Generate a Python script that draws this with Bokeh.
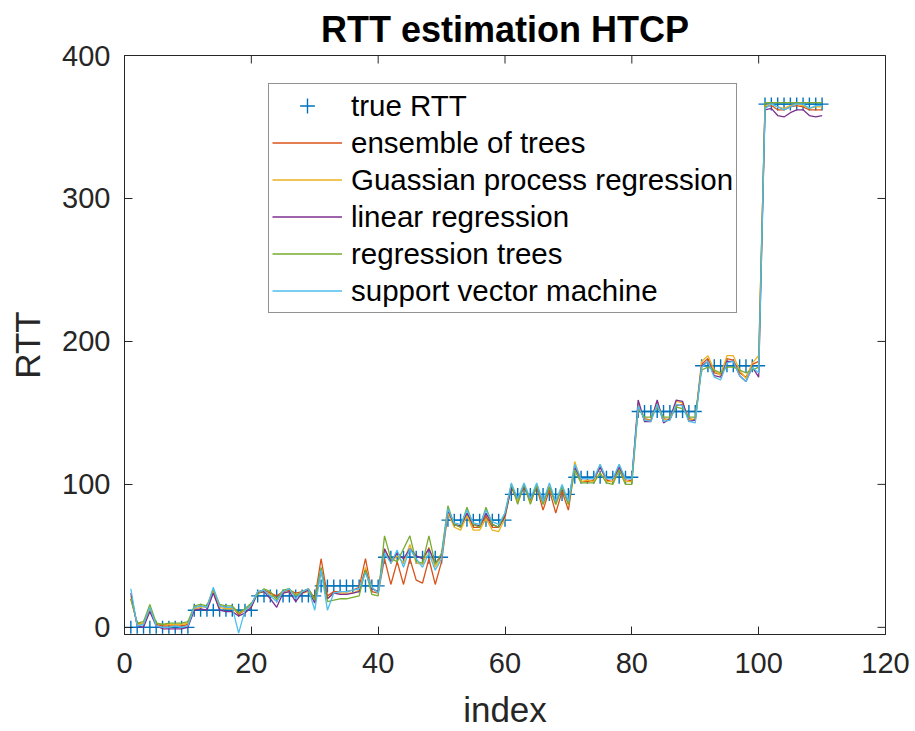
from bokeh.plotting import figure
from bokeh.models import Range1d, FixedTicker, Legend, LegendItem, ColumnDataSource
from bokeh.embed import file_html
from bokeh.resources import INLINE

index = list(range(1, 111))

true_rtt = [
    0, 0, 0, 0, 0, 0, 0, 0, 0, 0,
    12, 12, 12, 12, 12, 12, 12, 12, 12, 12,
    22, 22, 22, 22, 22, 22, 22, 22, 22, 22,
    29, 29, 29, 29, 29, 29, 29, 29, 29, 29,
    49, 49, 49, 49, 49, 49, 49, 49, 49, 49,
    75, 75, 75, 75, 75, 75, 75, 75, 75, 75,
    93, 93, 93, 93, 93, 93, 93, 93, 93, 93,
    105, 105, 105, 105, 105, 105, 105, 105, 105, 105,
    151, 151, 151, 151, 151, 151, 151, 151, 151, 151,
    183, 183, 183, 183, 183, 183, 183, 183, 183, 183,
    366, 366, 366, 366, 366, 366, 366, 366, 366, 366,
]

ensemble = [
    20, 3, 2, 12, 2, 1, 1, 1, 1, 2,
    14, 15, 14, 26, 15, 14, 14, 9, 12, 16,
    25, 26, 24, 22, 25, 26, 24, 25, 27, 20,
    48, 22, 25, 25, 25, 26, 28, 48, 25, 24,
    48, 30, 46, 30, 48, 33, 31, 48, 30, 46,
    80, 72, 70, 80, 70, 70, 78, 70, 70, 78,
    98, 88, 98, 88, 98, 82, 96, 80, 95, 82,
    112, 102, 102, 103, 112, 103, 102, 112, 102, 103,
    155, 146, 145, 156, 146, 145, 155, 156, 146, 145,
    184, 188, 178, 177, 188, 187, 178, 175, 184, 186,
    364, 365, 362, 362, 364, 365, 364, 362, 362, 362,
]

gpr = [
    22, 2, 3, 13, 3, 2, 2, 2, 2, 3,
    13, 14, 15, 25, 14, 13, 13, 10, 12, 15,
    24, 25, 23, 20, 24, 25, 23, 24, 25, 18,
    40, 20, 24, 24, 24, 24, 26, 42, 28, 24,
    55, 45, 50, 45, 58, 45, 44, 56, 42, 50,
    80, 70, 68, 78, 68, 68, 76, 68, 67, 76,
    100, 88, 100, 87, 100, 86, 100, 86, 98, 86,
    116, 102, 103, 102, 114, 102, 102, 114, 102, 102,
    156, 145, 145, 158, 145, 146, 158, 157, 145, 146,
    186, 190, 180, 176, 190, 190, 180, 174, 185, 190,
    365, 366, 364, 363, 365, 366, 365, 363, 364, 364,
]

linear = [
    24, 1, 0, 11, 1, -1, -1, -1, -1, 0,
    12, 13, 12, 24, 12, 11, 11, 8, 10, 14,
    24, 25, 20, 14, 24, 25, 18, 24, 26, 17,
    40, 20, 24, 23, 23, 24, 25, 40, 27, 25,
    55, 46, 52, 48, 55, 50, 48, 55, 45, 50,
    82, 72, 71, 80, 72, 71, 80, 72, 70, 78,
    98, 90, 98, 90, 98, 88, 98, 88, 97, 88,
    112, 104, 104, 104, 112, 104, 104, 112, 104, 104,
    159, 144, 144, 159, 143, 146, 159, 158, 144, 145,
    183, 186, 176, 175, 186, 186, 176, 172, 182, 175,
    362, 363, 358, 357, 360, 362, 362, 358, 357, 358,
]

reg_trees = [
    20, 3, 4, 16, 3, 2, 3, 3, 3, 4,
    15, 16, 15, 27, 16, 15, 15, 10, 13, 17,
    23, 27, 25, 19, 26, 27, 22, 25, 27, 19,
    42, 18, 19, 20, 20, 21, 22, 40, 23, 22,
    64, 48, 46, 55, 64, 46, 45, 64, 44, 52,
    85, 72, 70, 84, 72, 70, 84, 72, 70, 80,
    100, 86, 100, 86, 99, 86, 98, 86, 98, 86,
    110, 101, 101, 101, 108, 101, 100, 110, 100, 100,
    153, 147, 147, 154, 147, 147, 154, 153, 147, 147,
    180, 182, 180, 178, 182, 182, 180, 178, 180, 182,
    367, 367, 367, 367, 367, 367, 367, 367, 367, 367,
]

svm = [
    27, 1, 2, 14, 1, 0, 0, 1, 0, 1,
    14, 15, 14, 28, 15, 14, 14, -4, 12, 16,
    25, 26, 22, 18, 25, 27, 20, 25, 27, 12,
    40, 12, 24, 25, 25, 26, 27, 38, 28, 24,
    52, 45, 54, 42, 55, 48, 42, 52, 40, 48,
    83, 73, 72, 82, 73, 72, 82, 74, 72, 80,
    101, 90, 101, 90, 101, 88, 101, 88, 100, 88,
    114, 104, 104, 104, 114, 104, 104, 114, 104, 104,
    155, 145, 144, 156, 144, 145, 156, 155, 144, 143,
    182, 186, 175, 173, 185, 186, 176, 172, 182, 178,
    363, 366, 364, 362, 364, 366, 366, 363, 365, 365,
]

x_ticks = [0, 20, 40, 60, 80, 100, 120]
y_ticks = [0, 100, 200, 300, 400]

series_names = ["ensemble of trees", "Guassian process regression", "linear regression",
                "regression trees", "support vector machine"]
series_colors = ["#D95319", "#EDB120", "#7E2F8E", "#77AC30", "#4DBEEE"]

FONT = "Liberation Sans"
AX = "#262626"

src = ColumnDataSource(dict(x=index, true_rtt=true_rtt, ensemble=ensemble, gpr=gpr,
                            linear=linear, reg_trees=reg_trees, svm=svm))

p = figure(width=915, height=731, x_range=Range1d(0, 120), y_range=Range1d(-5, 400),
           output_backend="svg", toolbar_location=None,
           min_border_left=124, min_border_right=30, min_border_top=55, min_border_bottom=97)
p.background_fill_color = "white"
p.border_fill_color = "white"
p.xgrid.visible = False
p.ygrid.visible = False
p.outline_line_color = AX
p.outline_line_width = 1

p.title.text = "RTT estimation HTCP"
p.title.align = "center"
p.title.text_font = FONT
p.title.text_font_size = "36px"
p.title.text_font_style = "bold"
p.title.text_color = "black"
p.title.standoff = 12

for ax in (p.xaxis[0], p.yaxis[0]):
    ax.axis_line_color = AX
    ax.major_tick_line_color = AX
    ax.major_tick_in = 8
    ax.major_tick_out = 0
    ax.minor_tick_line_color = None
    ax.major_label_text_font = FONT
    ax.major_label_text_color = AX
    ax.major_label_text_font_size = "29px"
    ax.axis_label_text_font = FONT
    ax.axis_label_text_font_size = "35px"
    ax.axis_label_text_font_style = "normal"
    ax.axis_label_text_color = AX

p.xaxis.ticker = FixedTicker(ticks=x_ticks)
p.yaxis.ticker = FixedTicker(ticks=y_ticks)
p.xaxis.major_label_standoff = 18
p.yaxis.major_label_standoff = 14
p.xaxis.axis_label = "index"
p.yaxis.axis_label = "RTT"
p.xaxis.axis_label_standoff = 14
p.yaxis.axis_label_standoff = 12

# inward ticks on the top and right edges of the box (half of each dash is clipped)
top_src = ColumnDataSource(dict(x=x_ticks, y=[y_ticks[-1]] * len(x_ticks)))
right_src = ColumnDataSource(dict(x=[x_ticks[-1]] * len(y_ticks), y=y_ticks))
p.scatter("x", "y", source=top_src, marker="dash", size=16, angle=1.5708,
          line_color=AX, line_width=1)
p.scatter("x", "y", source=right_src, marker="dash", size=16,
          line_color=AX, line_width=1)

r_true = p.scatter("x", "true_rtt", source=src, marker="cross", size=13, line_width=1.4, color="#0072BD")
renderers = [r_true]
for col, color in zip(["ensemble", "gpr", "linear", "reg_trees", "svm"], series_colors):
    r = p.line("x", col, source=src, line_color=color, line_width=1.3)
    renderers.append(r)

items = [LegendItem(label="true RTT", renderers=[r_true])]
for name, r in zip(series_names, renderers[1:]):
    items.append(LegendItem(label=name, renderers=[r]))

legend = Legend(items=items, location=(144, 321))
legend.label_text_font = FONT
legend.label_text_font_size = "29.5px"
legend.label_text_color = "black"
legend.glyph_width = 70
legend.glyph_height = 37
legend.label_height = 37
legend.spacing = 0
legend.padding = 3
legend.margin = 0
legend.label_standoff = 9
legend.border_line_color = AX
legend.border_line_width = 1
legend.background_fill_color = "white"
legend.background_fill_alpha = 1
p.add_layout(legend, "center")

open("out.html", "w").write(file_html(p, INLINE))
